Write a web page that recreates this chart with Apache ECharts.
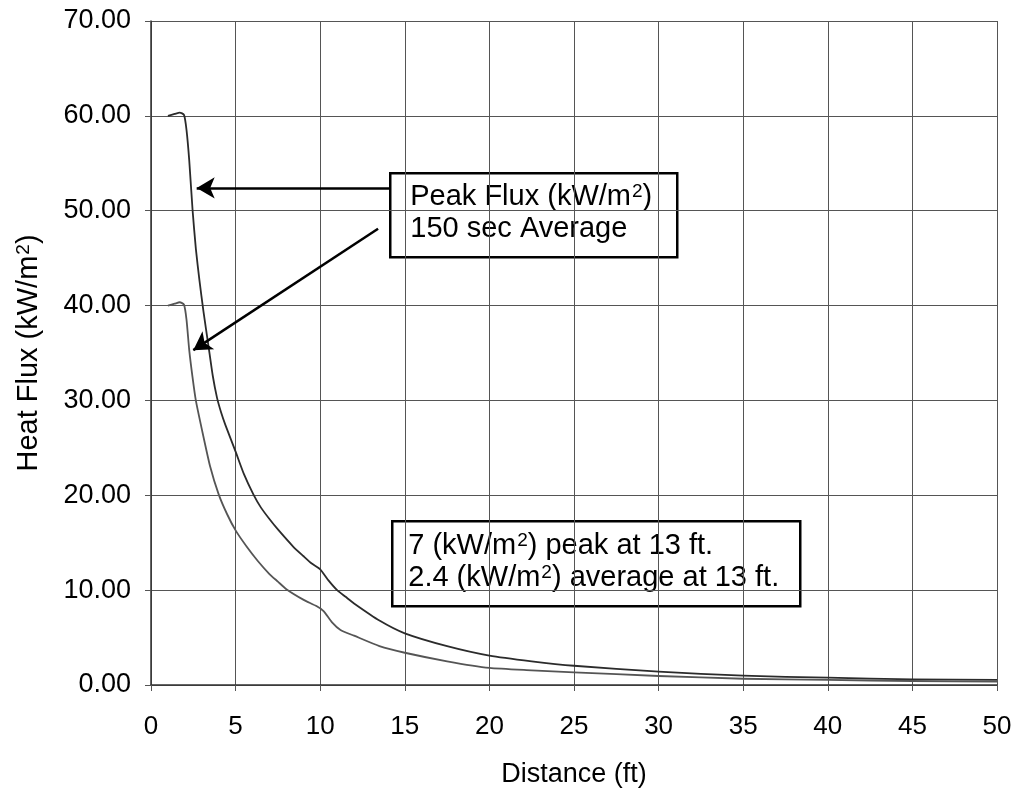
<!DOCTYPE html>
<html>
<head>
<meta charset="utf-8">
<script src="https://cdn.jsdelivr.net/npm/echarts@6/dist/echarts.min.js"></script>
<style>
  html, body { margin: 0; padding: 0; background: #fff; }
  #chart { width: 1020px; height: 804px; }
</style>
</head>
<body>
<div id="chart"></div>
<script>
// 峰值热通量 (distance ft, kW/m2)
const peakDist = [1.0, 1.4, 1.7, 1.95, 2.1, 2.26, 2.46, 2.65, 2.86, 3.1, 3.4, 3.65, 3.9, 4.15, 4.4, 5.0, 5.5, 6.05, 6.5, 7.0, 7.5, 8.4, 9.0, 9.5, 10.0, 10.5, 11.0, 11.5, 12.0, 13.5, 15, 17.5, 20, 22.5, 25, 30, 35, 40, 45, 50];
const peakFlux = [60.0, 60.2, 60.35, 60.1, 58.5, 55.3, 50.0, 46.0, 42.7, 39.4, 35.7, 32.6, 30.3, 28.7, 27.4, 24.6, 22.2, 20.1, 18.7, 17.5, 16.4, 14.6, 13.6, 12.8, 12.2, 11.0, 10.0, 9.3, 8.6, 6.8, 5.45, 4.1, 3.1, 2.5, 2.03, 1.4, 0.98, 0.77, 0.6, 0.53];

// 150秒平均
const avgDist = [1.0, 1.4, 1.7, 1.95, 2.1, 2.26, 2.45, 2.65, 3.0, 3.5, 4.0, 4.5, 5.0, 5.65, 6.3, 7.0, 7.5, 8.0, 9.0, 9.8, 10.2, 10.7, 11.2, 12.0, 13.5, 15, 17.5, 20, 22.5, 25, 30, 35, 40, 45, 50];
const avgFlux = [40.0, 40.2, 40.35, 40.1, 38.5, 35.3, 32.5, 30.0, 27.0, 23.0, 20.1, 18.0, 16.3, 14.6, 13.1, 11.7, 10.9, 10.1, 9.0, 8.3, 7.8, 6.6, 5.8, 5.2, 4.1, 3.4, 2.5, 1.8, 1.55, 1.34, 0.95, 0.66, 0.53, 0.42, 0.35];

// 箭头 (数据坐标)
const arrowPeak = [[14.07, 52.4], [2.7, 52.4]];
const arrowAvg = [[13.42, 48.1], [2.5, 35.3]];

const zip = (xs, ys) => xs.map((x, i) => [x, ys[i]]);

const chart = echarts.init(document.getElementById('chart'));

const fontFamily = '"Liberation Sans", Arial, sans-serif';
const boxText = {
  fill: '#000',
  fontSize: 29,
  fontFamily: fontFamily,
  lineHeight: 32,
  rich: {
    t: { fontSize: 29, fontFamily: fontFamily, lineHeight: 32 },
    sup: { fontSize: 19, fontFamily: fontFamily, lineHeight: 32, verticalAlign: 'top', padding: [1, 0, 0, 1] }
  }
};

const option = {
  backgroundColor: '#fff',
  animation: false,
  grid: { left: 151, right: 23, top: 21, bottom: 119 },
  xAxis: {
    type: 'value',
    min: 0,
    max: 50,
    interval: 5,
    name: 'Distance (ft)',
    nameLocation: 'middle',
    nameGap: 76,
    nameTextStyle: { fontSize: 27, color: '#000', fontFamily: fontFamily },
    axisLine: { show: true, lineStyle: { color: '#333', width: 1.5 } },
    axisTick: { show: true, length: 6, lineStyle: { color: '#555' } },
    axisLabel: { fontSize: 26, color: '#000', margin: 29, fontFamily: fontFamily },
    splitLine: { show: true, lineStyle: { color: '#555', width: 1 } }
  },
  yAxis: {
    type: 'value',
    min: 0,
    max: 70,
    interval: 10,
    name: '{t|Heat Flux (kW/m}{sup|2}{t|)}',
    nameLocation: 'middle',
    nameGap: 106,
    nameTextStyle: {
      color: '#000',
      fontSize: 29,
      fontFamily: fontFamily,
      rich: {
        t: { fontSize: 29, fontFamily: fontFamily, lineHeight: 32 },
        sup: { fontSize: 19, fontFamily: fontFamily, lineHeight: 32, verticalAlign: 'top', padding: [1, 0, 0, 1] }
      }
    },
    axisLine: { show: true, lineStyle: { color: '#333', width: 1.5 } },
    axisTick: { show: true, length: 6, lineStyle: { color: '#555' } },
    axisLabel: {
      fontSize: 27,
      color: '#000',
      margin: 20,
      fontFamily: fontFamily,
      formatter: v => v.toFixed(2)
    },
    splitLine: { show: true, lineStyle: { color: '#555', width: 1 } }
  },
  series: [
    {
      name: 'Peak Flux',
      type: 'line',
      data: zip(peakDist, peakFlux),
      showSymbol: false,
      smooth: 0.2,
      lineStyle: { color: '#2b2b2b', width: 1.8, join: 'round' },
      markLine: {
        silent: true,
        symbol: ['none', 'arrow'],
        symbolSize: [16, 18],
        label: { show: false },
        lineStyle: { color: '#000', width: 2.5, type: 'solid' },
        data: [
          [{ coord: arrowPeak[0] }, { coord: arrowPeak[1] }],
          [{ coord: arrowAvg[0] }, { coord: arrowAvg[1] }]
        ]
      }
    },
    {
      name: '150 sec Average',
      type: 'line',
      data: zip(avgDist, avgFlux),
      showSymbol: false,
      smooth: 0.2,
      lineStyle: { color: '#555', width: 1.8, join: 'round' }
    }
  ],
  graphic: [
    {
      type: 'group',
      left: 389,
      top: 172,
      children: [
        {
          type: 'rect',
          shape: { x: 0, y: 0, width: 287, height: 84 },
          style: { fill: '#fff', stroke: '#000', lineWidth: 2.5 }
        },
        {
          type: 'text',
          x: 20,
          y: 8,
          style: Object.assign({}, boxText, {
            text: '{t|Peak Flux (kW/m}{sup|2}{t|)}\n{t|150 sec Average}'
          })
        }
      ]
    },
    {
      type: 'group',
      left: 391,
      top: 520,
      children: [
        {
          type: 'rect',
          shape: { x: 0, y: 0, width: 408, height: 85 },
          style: { fill: '#fff', stroke: '#000', lineWidth: 2.5 }
        },
        {
          type: 'text',
          x: 16,
          y: 9,
          style: Object.assign({}, boxText, {
            text: '{t|7 (kW/m}{sup|2}{t|) peak at 13 ft.}\n{t|2.4 (kW/m}{sup|2}{t|) average at 13 ft.}'
          })
        }
      ]
    }
  ]
};

chart.setOption(option);
window.addEventListener('resize', () => chart.resize());
</script>
</body>
</html>
